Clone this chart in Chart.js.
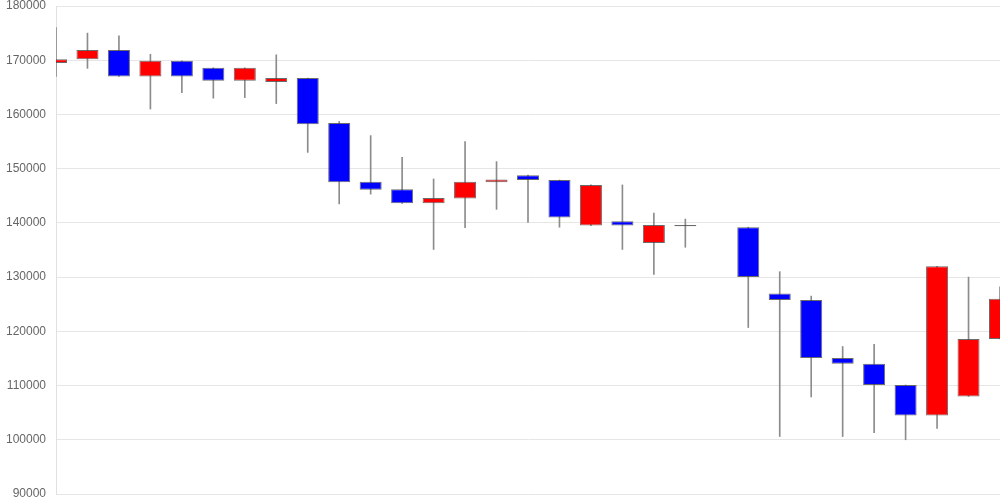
<!DOCTYPE html>
<html>
<head>
<meta charset="utf-8">
<script src="https://cdn.jsdelivr.net/npm/chart.js@4/dist/chart.umd.min.js"></script>
<style>
  html, body { margin: 0; padding: 0; background: #fff; }
  #wrap { width: 1000px; height: 500px; }
</style>
</head>
<body>
<div id="wrap"><canvas id="chart-candle" width="1000" height="500"></canvas></div>
<script>
// one label per trading day (not shown on the chart)
const days = [
  "1", "2", "3", "4", "5", "6", "7", "8", "9", "10",
  "11", "12", "13", "14", "15", "16", "17", "18", "19", "20",
  "21", "22", "23", "24", "25", "26", "27", "28", "29", "30", "31",
];
const open = [
  169500, 170200, 171900, 167000, 169900, 168600, 166200, 166000, 166700, 158400,
  147600, 146200, 143600, 144500, 147500, 148800, 147900, 139500, 140300, 136300,
  139600, null, 139200, 127000, 125800, 115100, 114000, 110100, 104500, 108000, 118600,
];
const close = [
  170200, 171900, 167000, 169900, 167000, 166200, 168600, 166700, 158200, 147500,
  146100, 143600, 144600, 147600, 148000, 147900, 141000, 147000, 139500, 139600,
  139400, null, 130000, 125800, 115100, 114000, 110100, 104500, 132000, 118600, 126000,
];
const high = [
  176000, 175000, 174500, 171100, 169900, 168600, 168600, 171000, 166700, 158700,
  156100, 152100, 148100, 155000, 151300, 148800, 147900, 147000, 147000, 141800,
  140700, null, 139200, 131000, 126500, 117200, 117600, 110100, 132000, 130000, 128200,
];
const low = [
  167000, 168500, 167000, 161000, 164000, 163000, 163100, 162000, 153000, 143500,
  145300, 143600, 135100, 139100, 142500, 140100, 139200, 139500, 135100, 130500,
  135500, null, 120700, 100600, 107900, 100600, 101300, 100000, 102100, 108000, 118600,
];
const yTicks = [90000, 100000, 110000, 120000, 130000, 140000, 150000, 160000, 170000, 180000];

const bodies = open.map(function (o, i) {
  return o === null ? null : [o, close[i]];
});
const wicks = low.map(function (l, i) {
  return l === null ? null : [l, high[i]];
});
const bodyColors = open.map(function (o, i) {
  return close[i] >= o ? "#ff0000" : "#0000ff";
});

var ctx = document.getElementById("chart-candle").getContext("2d");
new Chart(ctx, {
  type: "bar",
  data: {
    labels: days,
    datasets: [
      {
        label: "body",
        data: bodies,
        backgroundColor: bodyColors,
        borderColor: "rgba(70, 70, 70, 0.8)",
        borderWidth: 1,
        borderSkipped: false,
        barPercentage: 0.7,
        categoryPercentage: 1,
        grouped: false,
        clip: 0,
      },
      {
        label: "wick",
        data: wicks,
        backgroundColor: "#8c8c8c",
        borderWidth: 0,
        barThickness: 1,
        grouped: false,
        clip: 0,
      },
    ],
  },
  options: {
    responsive: false,
    animation: false,
    layout: { padding: { left: 0, right: 0, top: 6, bottom: 6 } },
    plugins: {
      legend: { display: false },
      tooltip: { enabled: false },
    },
    scales: {
      x: {
        display: false,
        offset: false,
        grid: { display: false, offset: false },
      },
      y: {
        min: yTicks[0],
        max: yTicks[yTicks.length - 1],
        border: { display: true, color: "#e0e0e0" },
        grid: {
          color: "#e6e6e6",
          drawTicks: false,
        },
        ticks: {
          stepSize: 10000,
          padding: 10,
          color: "#666",
          font: { size: 12, family: "'Liberation Sans', Arial, sans-serif" },
          callback: function (value) {
            return String(value);
          },
        },
        afterFit: function (scale) {
          scale.width = 56;
          scale.paddingTop = 0;
          scale.paddingBottom = 0;
        },
      },
    },
  },
});
</script>
</body>
</html>
